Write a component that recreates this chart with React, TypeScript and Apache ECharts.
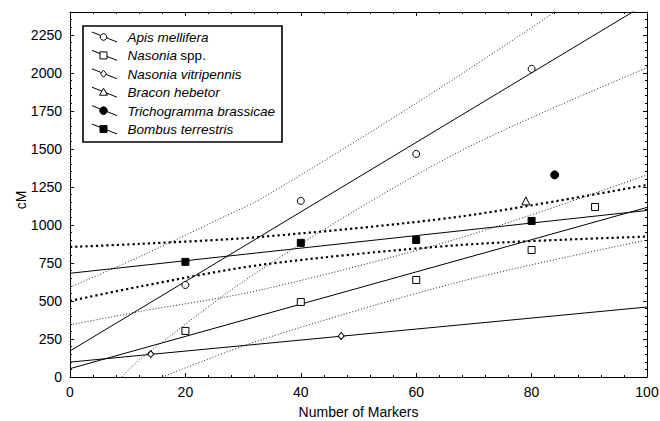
import React, { useEffect, useRef } from "react";
import * as echarts from "echarts";

const FONT = "'Liberation Sans', Arial, Helvetica, sans-serif";

// Tick setup
const xMin = 0, xMax = 100, xStep = 20;
const yMin = 0, yMax = 2400, yStep = 250;

// Axis titles
const xTitle = "Number of Markers";
const yTitle = "cM";

// Legend names
const speciesNames = [
  "Apis mellifera",
  "Nasonia spp.",
  "Nasonia vitripennis",
  "Bracon hebetor",
  "Trichogramma brassicae",
  "Bombus terrestris",
];

// Observed points [markers, cM]
const apisPts = [[20, 605], [40, 1158], [60, 1467], [80, 2026]];
const nasSppPts = [[20, 303], [40, 493], [60, 638], [80, 835], [91, 1118]];
const vitriPts = [[14, 151], [47, 270]];
const braconPts = [[79, 1158]];
const trichoPts = [[84, 1329]];
const bombusPts = [[20, 757], [40, 882], [60, 901], [80, 1026]];

// Regression lines (read at ends)
const apisFit = [[0, 171], [100, 2457]];
const nasSppFit = [[0, 55], [100, 1115]];
const vitriFit = [[0, 98], [100, 460]];
const bombusFit = [[0, 682], [100, 1095]];

// Confidence bands
const apisUpper = [[0, 590], [12, 790], [26.5, 1050], [33.5, 1180], [60, 1800], [84, 2400], [100, 2830]];
const apisLower = [[9, 0], [12, 112], [33, 704], [67, 1473], [100, 2033]];
const nasSppUpper = [[0, 342], [12, 430], [33, 572], [67.6, 914], [100, 1329]];
const nasSppLower = [[16, 0], [33, 243], [67.6, 627], [100, 901]];
const bombusUpper = [[0, 855], [12, 875], [33, 921], [67.6, 1055], [100, 1263]];
const bombusLower = [[0, 500], [12, 594], [33, 737], [67.6, 868], [100, 923]];

export default function App() {
  const ref = useRef<HTMLDivElement>(null);

  useEffect(() => {
    document.body.style.margin = "0";
    const chart = echarts.init(ref.current!, undefined, { renderer: "svg" });

    const tickCommon = {
      axisLine: { show: true, onZero: false, lineStyle: { color: "#000", width: 1 } },
      axisTick: { show: true, inside: true, length: 4, lineStyle: { color: "#000", width: 1 } },
      minorTick: { show: true, splitNumber: 5, length: 2, lineStyle: { color: "#000", width: 1 } },
      splitLine: { show: false },
      minorSplitLine: { show: false },
    };

    const thinDot = { color: "#222", width: 1, type: [1, 2] as number[] };
    const thickDot = { color: "#000", width: 2.2, type: [2.2, 3] as number[] };
    const solid = { color: "#000", width: 1, type: "solid" };

    const band = (data: number[][], ls: any) => ({
      type: "line",
      data,
      smooth: 0.3,
      symbol: "none",
      showSymbol: false,
      silent: true,
      lineStyle: ls,
      z: 2,
    });
    const fit = (data: number[][]) => ({
      type: "line",
      data,
      symbol: "none",
      showSymbol: false,
      silent: true,
      lineStyle: solid,
      z: 3,
    });
    const pts = (data: number[][], symbol: string, size: any, filled: boolean) => ({
      type: "scatter",
      data,
      symbol,
      symbolSize: size,
      itemStyle: { color: filled ? "#000" : "#fff", borderColor: "#000", borderWidth: 1, opacity: 1 },
      z: 5,
    });

    // legend graphic
    const lgX = 83, lgY = 26, lgW = 199, lgH = 116;
    const row0 = 37.5, rowStep = 18.4;
    const legendMarkers = ["circle", "rect", "diamond", "triangle", "fcircle", "frect"];
    const graphics: any[] = [
      {
        type: "rect",
        shape: { x: lgX, y: lgY, width: lgW, height: lgH },
        style: { fill: "#fff", stroke: "#000", lineWidth: 1.6 },
        z: 10,
      },
      {
        type: "text",
        x: 21,
        y: 200,
        rotation: Math.PI / 2,
        style: {
          text: yTitle,
          fontSize: 14,
          fontFamily: FONT,
          fill: "#000",
          align: "center",
          verticalAlign: "middle",
        },
        z: 12,
      },
    ];
    speciesNames.forEach((name, i) => {
      const cy = row0 + rowStep * i;
      const mx = 103.5, my = cy - 0.5;
      graphics.push({
        type: "line",
        shape: { x1: 92, y1: cy - 5.5, x2: 117, y2: cy + 4.5 },
        style: { stroke: "#000", lineWidth: 1 },
        z: 11,
      });
      const m = legendMarkers[i];
      const st = { fill: "#fff", stroke: "#000", lineWidth: 1 };
      const fst = { fill: "#000", stroke: "#000", lineWidth: 1 };
      if (m === "circle") graphics.push({ type: "circle", shape: { cx: mx, cy: my, r: 3.3 }, style: st, z: 12 });
      if (m === "rect") graphics.push({ type: "rect", shape: { x: mx - 3.5, y: my - 3.5, width: 7, height: 7 }, style: st, z: 12 });
      if (m === "diamond") graphics.push({ type: "polygon", shape: { points: [[mx, my - 3.5], [mx + 3, my], [mx, my + 3.5], [mx - 3, my]] }, style: st, z: 12 });
      if (m === "triangle") graphics.push({ type: "polygon", shape: { points: [[mx, my - 4], [mx + 4, my + 3], [mx - 4, my + 3]] }, style: st, z: 12 });
      if (m === "fcircle") graphics.push({ type: "circle", shape: { cx: mx, cy: my, r: 3.8 }, style: fst, z: 12 });
      if (m === "frect") graphics.push({ type: "rect", shape: { x: mx - 3.5, y: my - 3.5, width: 7, height: 7 }, style: fst, z: 12 });

      const parts = name.split(" ");
      const isSpp = parts[1] === "spp.";
      graphics.push({
        type: "text",
        x: 127.5,
        y: cy,
        style: {
          text: isSpp ? `{i|${parts[0]}} {n|spp.}` : `{i|${name}}`,
          rich: {
            i: { fontStyle: "italic", fontSize: 13.5, fontFamily: FONT, fill: "#000", color: "#000" },
            n: { fontStyle: "normal", fontSize: 13.5, fontFamily: FONT, fill: "#000", color: "#000" },
          },
          verticalAlign: "middle",
          align: "left",
          fill: "#000",
        },
        z: 12,
      });
    });

    const plain = (v: number) => String(v);

    chart.setOption({
      animation: false,
      backgroundColor: "#fff",
      grid: { left: 70, right: 13, top: 12, bottom: 44, containLabel: false, outerBoundsMode: "none" },
      xAxis: [
        {
          type: "value",
          position: "bottom",
          min: xMin,
          max: xMax,
          interval: xStep,
          ...tickCommon,
          axisLabel: { color: "#000", fontSize: 14, margin: 8, fontFamily: FONT, formatter: plain },
          name: xTitle,
          nameLocation: "middle",
          nameGap: 28,
          nameMoveOverlap: false,
          nameTextStyle: { color: "#000", fontSize: 14, fontFamily: FONT },
        },
        {
          type: "value",
          position: "top",
          min: xMin,
          max: xMax,
          interval: xStep,
          ...tickCommon,
          axisLabel: { show: false },
        },
      ],
      yAxis: [
        {
          type: "value",
          position: "left",
          min: yMin,
          max: yMax,
          interval: yStep,
          ...tickCommon,
          axisLabel: { color: "#000", fontSize: 14, margin: 8, fontFamily: FONT, showMaxLabel: false, formatter: plain },
        },
        {
          type: "value",
          position: "right",
          min: yMin,
          max: yMax,
          interval: yStep,
          ...tickCommon,
          axisLabel: { show: false },
        },
      ],
      series: [
        band(apisUpper, thinDot),
        band(apisLower, thinDot),
        band(nasSppUpper, thinDot),
        band(nasSppLower, thinDot),
        band(bombusUpper, thickDot),
        band(bombusLower, thickDot),
        fit(apisFit),
        fit(nasSppFit),
        fit(vitriFit),
        fit(bombusFit),
        { ...pts(apisPts, "circle", 7, false), name: speciesNames[0] },
        { ...pts(nasSppPts, "rect", 7, false), name: speciesNames[1] },
        { ...pts(vitriPts, "diamond", [6, 7], false), name: speciesNames[2] },
        { ...pts(braconPts, "triangle", 8, false), name: speciesNames[3] },
        { ...pts(trichoPts, "circle", 8, true), name: speciesNames[4] },
        { ...pts(bombusPts, "rect", 7, true), name: speciesNames[5] },
      ],
      graphic: graphics,
    });

    return () => chart.dispose();
  }, []);

  return <div ref={ref} style={{ width: 660, height: 421 }} />;
}
